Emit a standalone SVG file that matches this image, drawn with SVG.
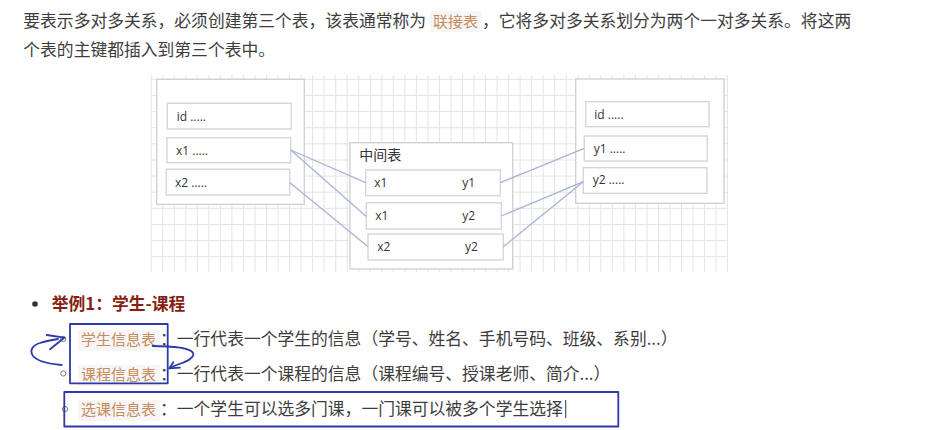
<svg xmlns="http://www.w3.org/2000/svg" width="935" height="430" viewBox="0 0 935 430">
<style>
.body{font-family:"Noto Sans CJK SC","Noto Sans",sans-serif;font-size:16.8px;fill:#3d3d3d}
.code{font-family:"Noto Sans CJK SC","Noto Sans",sans-serif;font-size:15px;fill:#c98b5b}
.codebg{fill:#f6f6f6}
.grid line{stroke:#e4e4e4;stroke-width:1}
.outer{fill:#fff;stroke:#d2d2d2;stroke-width:1.4}
.row{fill:#fff;stroke:#d6d6d6;stroke-width:1.4}
.lbl{font-family:"Open Sans","Liberation Sans",sans-serif;font-size:12px;fill:#333}
.cn{font-family:"Noto Sans CJK SC",sans-serif;font-size:14px;fill:#333}
.conn line{stroke:#a9b3d9;stroke-width:1.3}
.ann{fill:none;stroke:#2d3aa8;stroke-width:1.8;stroke-linecap:round;stroke-linejoin:round}
.bul{fill:none;stroke:#777;stroke-width:1}
</style>
<rect width="935" height="430" fill="#fff"/>

<!-- paragraph -->
<text class="body" x="23.3" y="27">要表示多对多关系，必须创建第三个表，该表通常称为</text>
<rect class="codebg" x="430" y="11" width="52" height="21"/>
<text class="code" x="433" y="27">联接表</text>
<text class="body" x="482" y="27">，它将多对多关系划分为两个一对多关系。将这两</text>
<text class="body" x="23.3" y="56">个表的主键都插入到第三个表中。</text>

<!-- grid -->
<g class="grid" id="grid">
<line x1="151" y1="79.3" x2="727" y2="79.3"/>
<line x1="151" y1="95.4" x2="727" y2="95.4"/>
<line x1="151" y1="111.6" x2="727" y2="111.6"/>
<line x1="151" y1="127.7" x2="727" y2="127.7"/>
<line x1="151" y1="143.8" x2="727" y2="143.8"/>
<line x1="151" y1="160" x2="727" y2="160"/>
<line x1="151" y1="176.1" x2="727" y2="176.1"/>
<line x1="151" y1="192.2" x2="727" y2="192.2"/>
<line x1="151" y1="208.3" x2="727" y2="208.3"/>
<line x1="151" y1="224.5" x2="727" y2="224.5"/>
<line x1="151" y1="240.6" x2="727" y2="240.6"/>
<line x1="151" y1="256.7" x2="727" y2="256.7"/>
<line x1="151.2" y1="75" x2="151.2" y2="272"/>
<line x1="162.7" y1="75" x2="162.7" y2="272"/>
<line x1="174.3" y1="75" x2="174.3" y2="272"/>
<line x1="185.8" y1="75" x2="185.8" y2="272"/>
<line x1="197.3" y1="75" x2="197.3" y2="272"/>
<line x1="208.8" y1="75" x2="208.8" y2="272"/>
<line x1="220.4" y1="75" x2="220.4" y2="272"/>
<line x1="231.9" y1="75" x2="231.9" y2="272"/>
<line x1="243.4" y1="75" x2="243.4" y2="272"/>
<line x1="255" y1="75" x2="255" y2="272"/>
<line x1="266.5" y1="75" x2="266.5" y2="272"/>
<line x1="278" y1="75" x2="278" y2="272"/>
<line x1="289.5" y1="75" x2="289.5" y2="272"/>
<line x1="301.1" y1="75" x2="301.1" y2="272"/>
<line x1="312.6" y1="75" x2="312.6" y2="272"/>
<line x1="324.1" y1="75" x2="324.1" y2="272"/>
<line x1="335.7" y1="75" x2="335.7" y2="272"/>
<line x1="347.2" y1="75" x2="347.2" y2="272"/>
<line x1="358.7" y1="75" x2="358.7" y2="272"/>
<line x1="370.3" y1="75" x2="370.3" y2="272"/>
<line x1="381.8" y1="75" x2="381.8" y2="272"/>
<line x1="393.3" y1="75" x2="393.3" y2="272"/>
<line x1="404.8" y1="75" x2="404.8" y2="272"/>
<line x1="416.4" y1="75" x2="416.4" y2="272"/>
<line x1="427.9" y1="75" x2="427.9" y2="272"/>
<line x1="439.4" y1="75" x2="439.4" y2="272"/>
<line x1="451" y1="75" x2="451" y2="272"/>
<line x1="462.5" y1="75" x2="462.5" y2="272"/>
<line x1="474" y1="75" x2="474" y2="272"/>
<line x1="485.5" y1="75" x2="485.5" y2="272"/>
<line x1="497.1" y1="75" x2="497.1" y2="272"/>
<line x1="508.6" y1="75" x2="508.6" y2="272"/>
<line x1="520.1" y1="75" x2="520.1" y2="272"/>
<line x1="531.7" y1="75" x2="531.7" y2="272"/>
<line x1="543.2" y1="75" x2="543.2" y2="272"/>
<line x1="554.7" y1="75" x2="554.7" y2="272"/>
<line x1="566.2" y1="75" x2="566.2" y2="272"/>
<line x1="577.8" y1="75" x2="577.8" y2="272"/>
<line x1="589.3" y1="75" x2="589.3" y2="272"/>
<line x1="600.8" y1="75" x2="600.8" y2="272"/>
<line x1="612.4" y1="75" x2="612.4" y2="272"/>
<line x1="623.9" y1="75" x2="623.9" y2="272"/>
<line x1="635.4" y1="75" x2="635.4" y2="272"/>
<line x1="647" y1="75" x2="647" y2="272"/>
<line x1="658.5" y1="75" x2="658.5" y2="272"/>
<line x1="670" y1="75" x2="670" y2="272"/>
<line x1="681.5" y1="75" x2="681.5" y2="272"/>
<line x1="693.1" y1="75" x2="693.1" y2="272"/>
<line x1="704.6" y1="75" x2="704.6" y2="272"/>
<line x1="716.1" y1="75" x2="716.1" y2="272"/>
<line x1="727.6" y1="75" x2="727.6" y2="272"/>
</g>

<!-- left table -->
<g id="table-left">
<rect class="outer" x="156.7" y="79.3" width="147.6" height="125"/>
<rect class="row" x="167.3" y="103.3" width="124" height="25.7"/>
<text class="lbl" x="176.7" y="120.5">id .....</text>
<rect class="row" x="167" y="137.7" width="123.7" height="25"/>
<text class="lbl" x="176" y="154.5">x1 .....</text>
<rect class="row" x="166.3" y="169.3" width="123.4" height="25.7"/>
<text class="lbl" x="175" y="186.5">x2 .....</text>
</g>

<!-- middle table -->
<g id="table-middle">
<rect class="outer" x="350" y="142.7" width="162.7" height="126.3"/>
<text class="cn" x="359.3" y="159.5">中间表</text>
<rect class="row" x="365.7" y="170" width="134.6" height="25.7"/>
<text class="lbl" x="374.3" y="186.8">x1</text>
<text class="lbl" x="462.3" y="186.8">y1</text>
<rect class="row" x="366.3" y="202.7" width="135" height="26.3"/>
<text class="lbl" x="375.3" y="220">x1</text>
<text class="lbl" x="462.3" y="220">y2</text>
<rect class="row" x="368" y="234" width="135.3" height="26"/>
<text class="lbl" x="377.3" y="250.8">x2</text>
<text class="lbl" x="465" y="250.8">y2</text>
</g>

<!-- right table -->
<g id="table-right">
<rect class="outer" x="575.7" y="79" width="148.3" height="124.3"/>
<rect class="row" x="585.7" y="101.7" width="123.3" height="25"/>
<text class="lbl" x="594.3" y="118.5">id .....</text>
<rect class="row" x="584.3" y="136" width="123" height="25"/>
<text class="lbl" x="593.7" y="152.8">y1 .....</text>
<rect class="row" x="583.3" y="167.7" width="123.7" height="25.6"/>
<text class="lbl" x="592.7" y="184.3">y2 .....</text>
</g>

<!-- connectors -->
<g class="conn" id="connectors">
<line x1="290.7" y1="150" x2="365.7" y2="182.7"/>
<line x1="290.7" y1="150" x2="366.3" y2="216.5"/>
<line x1="289.7" y1="182.5" x2="368" y2="246.8"/>
<line x1="500.3" y1="182.7" x2="584.3" y2="148.3"/>
<line x1="501.3" y1="216" x2="583.3" y2="181.7"/>
<line x1="503.3" y1="246.7" x2="583.3" y2="181.7"/>
</g>

<!-- list -->
<circle cx="35" cy="304" r="2.8" fill="#333"/>
<text x="51.7" y="310" font-family="'Noto Sans CJK SC',sans-serif" font-size="16.8" font-weight="bold" fill="#861e12">举例1：学生-课程</text>

<circle class="bul" cx="63.3" cy="339" r="2.6"/>
<rect class="codebg" x="78" y="330" width="82" height="21"/>
<text class="code" x="81" y="345">学生信息表</text>
<text class="body" x="160" y="345">：一行代表一个学生的信息（学号、姓名、手机号码、班级、系别...）</text>

<circle class="bul" cx="63.3" cy="373.5" r="2.6"/>
<rect class="codebg" x="78" y="365" width="82" height="21"/>
<text class="code" x="81" y="380">课程信息表</text>
<text class="body" x="160" y="380">：一行代表一个课程的信息（课程编号、授课老师、简介...）</text>

<circle class="bul" cx="65" cy="409" r="2.6"/>
<rect class="codebg" x="78" y="400" width="82" height="21"/>
<text class="code" x="81" y="415">选课信息表</text>
<text class="body" x="160" y="415">：一个学生可以选多门课，一门课可以被多个学生选择</text>
<line x1="565.7" y1="400" x2="565.7" y2="418" stroke="#333" stroke-width="1"/>

<!-- hand annotations -->
<g id="annotations">
<rect class="ann" x="70" y="324" width="97.7" height="59.3"/>
<rect class="ann" x="64.3" y="392" width="554" height="34.5"/>
<path class="ann" d="M46.7,335 L64.3,337.7 L50,349.3"/>
<path class="ann" d="M61.7,365 C50,364 38,362 33,356 C29,350 33,345 40,343 C46,341 52,340 58,339"/>
<path class="ann" d="M152.7,346 C162,346 172,346.5 180,347.7 C188,349 194,351 193.3,355 C192.5,359 186,362 176.7,365 C173,366.5 171,367.5 169.3,368.3"/>
<path class="ann" d="M173.3,362.3 L169.3,368.3 L180,367.7"/>
</g>
</svg>
